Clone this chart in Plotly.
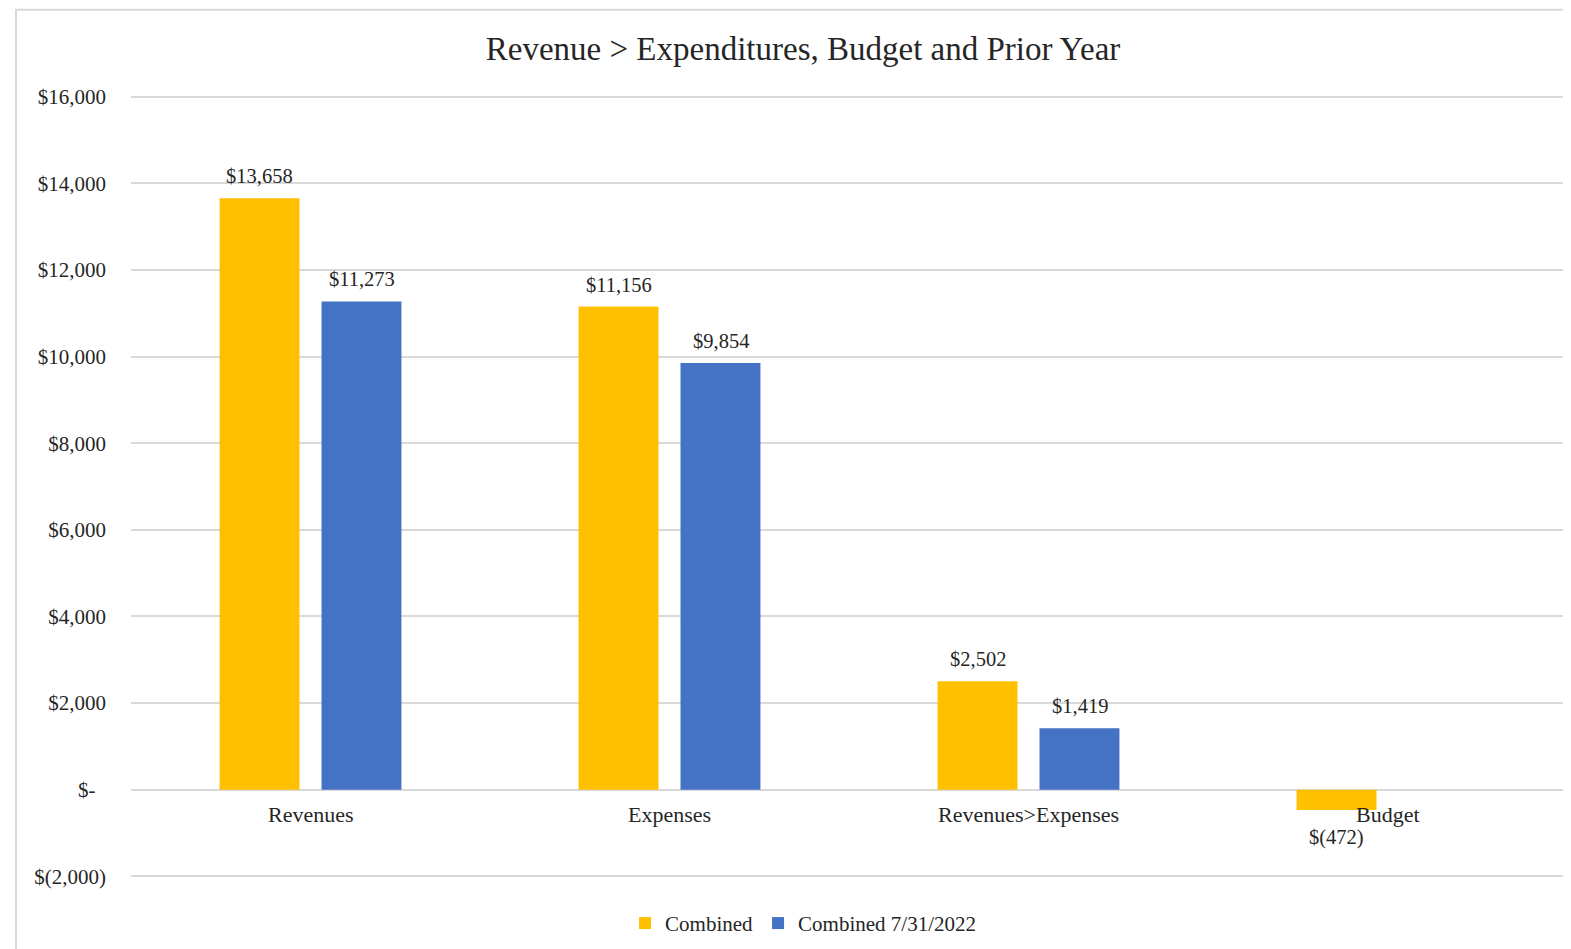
import plotly.graph_objects as go

categories = ['Revenues', 'Expenses', 'Revenues>Expenses', 'Budget']
combined = [13658, 11156, 2502, -472]
combined_prior = [11273, 9854, 1419, None]
series_names = ['Combined', 'Combined 7/31/2022']
tick_values = [-2000, 0, 2000, 4000, 6000, 8000, 10000, 12000, 14000, 16000]
tick_labels = ['$(2,000)', '$-  ', '$2,000', '$4,000', '$6,000', '$8,000',
               '$10,000', '$12,000', '$14,000', '$16,000']

FONT = 'Times New Roman, Liberation Serif, serif'
TEXT = '#262626'
GRID = '#d9d9d9'


def money(v):
    # Excel accounting style: negatives in parentheses
    return f'${v:,.0f}' if v >= 0 else f'$({-v:,.0f})'


fig = go.Figure()
series = [(series_names[0], combined, '#ffc000', -51),
          (series_names[1], combined_prior, '#4472c4', 51)]
for name, values, colour, shift in series:
    fig.add_trace(go.Bar(
        x=categories, y=values, name=name,
        marker=dict(color=colour, line=dict(width=0)),
    ))
    # data labels, a bit further from the bar ends than plotly's own outside text
    for cat, v in zip(categories, values):
        if v is None:
            continue
        fig.add_annotation(x=cat, y=v, xref='x', yref='y', xshift=shift,
                           yshift=22 if v >= 0 else -27, yanchor='middle',
                           text=money(v), showarrow=False,
                           font=dict(family=FONT, size=20.5, color=TEXT))

# category labels sit just under the zero line, like Excel does
for cat in categories:
    fig.add_annotation(x=cat, y=0, xref='x', yref='y', yanchor='middle',
                       yshift=-25, text=cat, showarrow=False,
                       font=dict(family=FONT, size=22, color=TEXT))

# light frame around the chart area
fig.add_shape(type='rect', xref='paper', yref='paper',
              x0=-0.0801, x1=1.2, y0=-0.5, y1=1.109,
              line=dict(color=GRID, width=2), layer='below')

fig.update_layout(
    width=1571, height=949,
    margin=dict(l=123, r=12, t=87, b=79),
    paper_bgcolor='white', plot_bgcolor='white',
    font=dict(family=FONT, color=TEXT, size=20),
    title=dict(text='Revenue &gt; Expenditures, Budget and Prior Year',
               xref='paper', x=0.468, xanchor='center',
               y=1 - 40 / 949, yanchor='middle',
               font=dict(family=FONT, size=33, color=TEXT)),
    barmode='group', bargap=0.432, bargroupgap=0.216,
    showlegend=True,
    legend=dict(orientation='h', x=0.468, xanchor='center', y=-0.058,
                yanchor='middle', font=dict(family=FONT, size=21, color=TEXT),
                itemwidth=30),
)
fig.update_xaxes(showticklabels=False, showgrid=False, showline=False, zeroline=False)
fig.update_yaxes(range=[-2040, 16040], tickvals=tick_values, ticktext=tick_labels,
                 showgrid=True, gridcolor=GRID, gridwidth=1.5,
                 zeroline=True, zerolinecolor=GRID, zerolinewidth=1.5,
                 ticks='', ticklabelstandoff=24,
                 tickfont=dict(family=FONT, size=21, color=TEXT))

fig.write_html('out.html')
